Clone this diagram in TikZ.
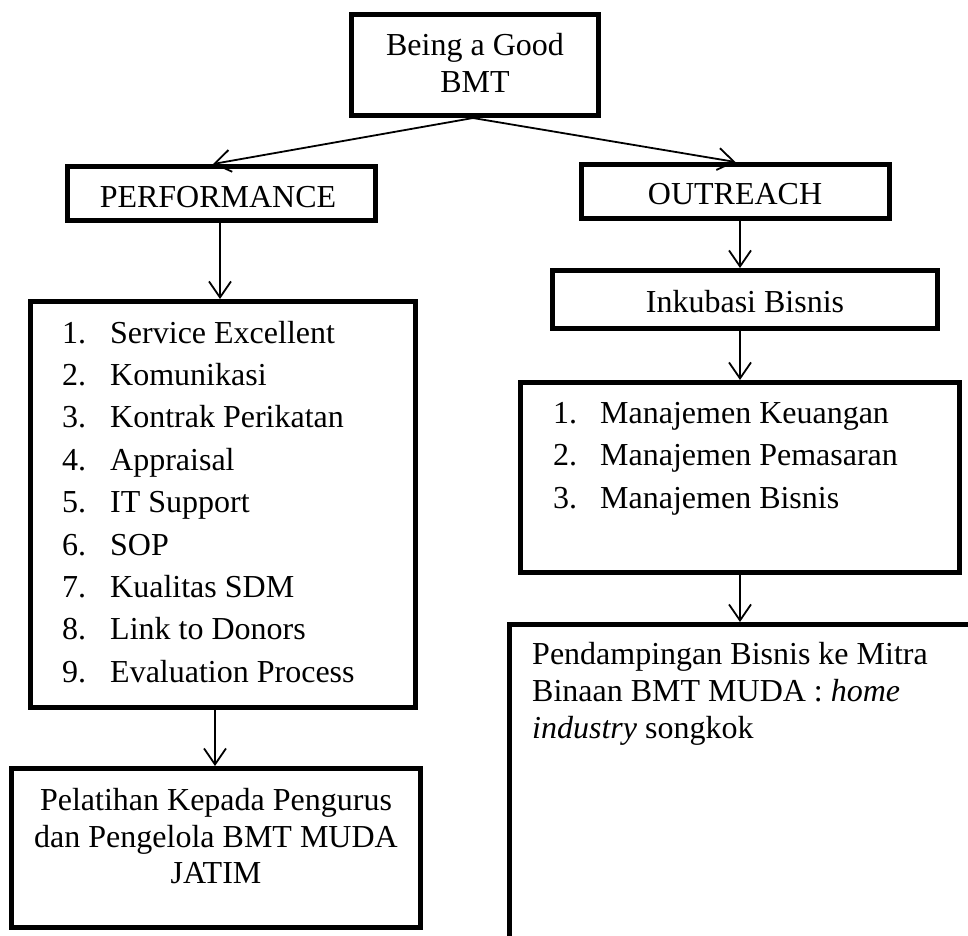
\documentclass[tikz,border=0pt]{standalone}
\usepackage{fontspec}
\setmainfont{Liberation Serif}
\usetikzlibrary{arrows.meta}
\tikzset{
  box/.style={draw, line width=5pt, inner sep=0pt, rectangle},
  txt/.style={inner sep=0pt, font=\fontsize{32}{38}\selectfont},
  ctxt/.style={txt, anchor=base},
  ltxt/.style={txt, anchor=base west},
  conn/.style={line width=1.8pt, -{Straight Barb[length=16pt,width=22pt,line width=1.8pt]}},
}
\newcommand{\itm}[2]{\makebox[48pt][l]{#1}#2}
\begin{document}
\begin{tikzpicture}[x=1pt,y=-1pt]
\useasboundingbox (0,0) rectangle (968,935);
\clip (0,0) rectangle (968,935);
% boxes
\node[box, minimum width=247pt, minimum height=101pt] (top) at (475,65) {};
\node[box, minimum width=308pt, minimum height=54pt] (perf) at (221.5,193.5) {};
\node[box, minimum width=308pt, minimum height=54pt] (outr) at (735.5,191.5) {};
\node[box, minimum width=385pt, minimum height=58pt] (inku) at (745,299.5) {};
\node[box, minimum width=439pt, minimum height=190pt] (rlist) at (740,477.5) {};
\node[box, minimum width=490.5pt, minimum height=335.5pt] (big) at (754.75,792.25) {};
\node[box, minimum width=385pt, minimum height=406pt] (llist) at (223,504.5) {};
\node[box, minimum width=409pt, minimum height=159pt] (pel) at (216,848) {};
% texts
\node[ctxt] (t1) at (475,55) {Being a Good};
\node[ctxt] (t2) at (475,92) {BMT};
\node[ctxt] (tp) at (218,207) {PERFORMANCE};
\node[ctxt] (to) at (735,204) {OUTREACH};
\node[ctxt] (ti) at (745,312) {Inkubasi Bisnis};
\node[ltxt] (l1) at (62,343) {\itm{1.}{Service Excellent}};
\node[ltxt] (l2) at (62,385) {\itm{2.}{Komunikasi}};
\node[ltxt] (l3) at (62,427) {\itm{3.}{Kontrak Perikatan}};
\node[ltxt] (l4) at (62,470) {\itm{4.}{Appraisal}};
\node[ltxt] (l5) at (62,512) {\itm{5.}{IT Support}};
\node[ltxt] (l6) at (62,555) {\itm{6.}{SOP}};
\node[ltxt] (l7) at (62,597) {\itm{7.}{Kualitas SDM}};
\node[ltxt] (l8) at (62,639) {\itm{8.}{Link to Donors}};
\node[ltxt] (l9) at (62,682) {\itm{9.}{Evaluation Process}};
\node[ltxt] (r1) at (553,423) {\makebox[47pt][l]{1.}Manajemen Keuangan};
\node[ltxt] (r2) at (553,465) {\makebox[47pt][l]{2.}Manajemen Pemasaran};
\node[ltxt] (r3) at (553,508) {\makebox[47pt][l]{3.}Manajemen Bisnis};
\node[ltxt] (b1) at (532,664) {Pendampingan Bisnis ke Mitra};
\node[ltxt] (b2) at (532,701) {Binaan BMT MUDA : \textit{home}};
\node[ltxt] (b3) at (532,738) {\textit{industry} songkok};
\node[ctxt] (p1) at (216,810) {Pelatihan Kepada Pengurus};
\node[ctxt] (p2) at (216,847) {dan Pengelola BMT MUDA};
\node[ctxt] (p3) at (216,883) {JATIM};
% connectors
\draw[conn] ([xshift=-2pt]top.south) -- ([xshift=-8.5pt]perf.north);
\draw[conn] ([xshift=-2pt]top.south) -- (outr.north);
\draw[conn] ([xshift=-1.5pt]perf.south) -- ([xshift=-1.5pt]perf.south |- llist.north);
\draw[conn] ([xshift=4.5pt]outr.south) -- ([xshift=4.5pt]outr.south |- inku.north);
\draw[conn] ([xshift=-5pt]inku.south) -- ([xshift=-5pt]inku.south |- rlist.north);
\draw[conn] (rlist.south) -- (rlist.south |- big.north);
\draw[conn] ([xshift=-8pt]llist.south) -- ([xshift=-8pt]llist.south |- pel.north);
\end{tikzpicture}
\end{document}
